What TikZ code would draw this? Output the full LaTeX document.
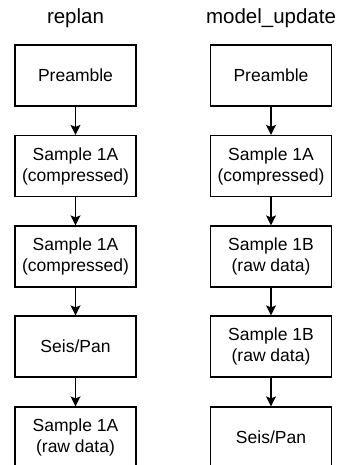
\documentclass[tikz,border=0pt]{standalone}
\usepackage{fontspec}
\setmainfont{Liberation Sans}
\usetikzlibrary{arrows.meta}
\tikzset{
  stepbox/.style={draw=black, line width=1.2pt, minimum width=121pt, minimum height=61pt,
    inner sep=0pt, align=center, font=\fontsize{17.5}{21}\selectfont},
  title/.style={font=\fontsize{20.5}{24}\selectfont, inner sep=0pt},
  conn/.style={draw=black, line width=1.2pt, -{Stealth[length=10pt,width=10pt,inset=2pt]}}
}
\begin{document}
\begin{tikzpicture}[x=1pt,y=-1pt]
\useasboundingbox (0,0) rectangle (339,465);
\clip (0,0) rectangle (339,465);
\fill[white] (0,0) rectangle (339,465);
\node[title] (t1) at (75.5,18) {replan};
\node[title] (t2) at (271,18) {model\_update};
% left column
\node[stepbox] (a1) at (75.5,75.5) {Preamble};
\node[stepbox] (a2) at (75.5,166) {Sample 1A\\(compressed)};
\node[stepbox] (a3) at (75.5,256.5) {Sample 1A\\(compressed)};
\node[stepbox] (a4) at (75.5,346.5) {Seis/Pan};
\node[stepbox] (a5) at (75.5,437.5) {Sample 1A\\(raw data)};
% right column
\node[stepbox] (b1) at (271,75.5) {Preamble};
\node[stepbox] (b2) at (271,166) {Sample 1A\\(compressed)};
\node[stepbox] (b3) at (271,256.5) {Sample 1B\\(raw data)};
\node[stepbox] (b4) at (271,346.5) {Sample 1B\\(raw data)};
\node[stepbox] (b5) at (271,437.5) {Seis/Pan};
\draw[conn] (a1) -- (a2);
\draw[conn] (a2) -- (a3);
\draw[conn] (a3) -- (a4);
\draw[conn] (a4) -- (a5);
\draw[conn] (b1) -- (b2);
\draw[conn] (b2) -- (b3);
\draw[conn] (b3) -- (b4);
\draw[conn] (b4) -- (b5);
\end{tikzpicture}
\end{document}
